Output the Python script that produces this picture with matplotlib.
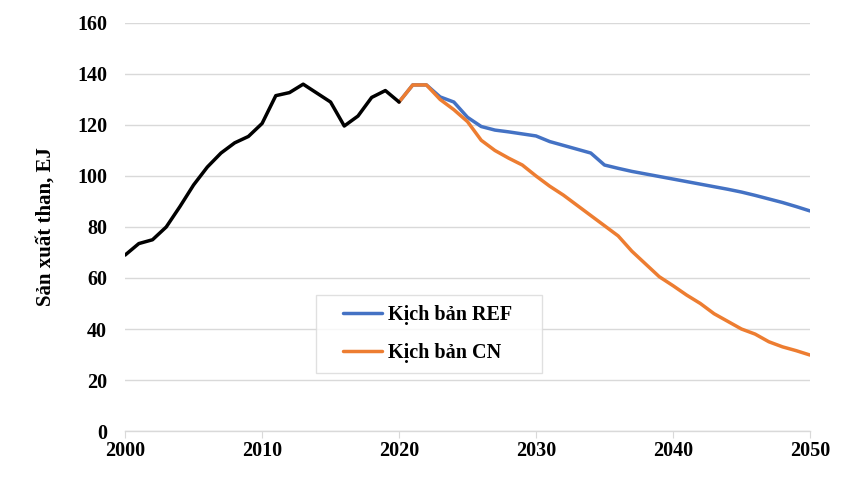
import numpy as np
import matplotlib.pyplot as plt
from matplotlib.legend_handler import HandlerLine2D

plt.rcParams['font.family'] = ['Liberation Serif', 'DejaVu Serif']
plt.rcParams['font.weight'] = 'bold'

# historical coal production 2000-2020
hist_years = list(range(2000, 2021))
hist_vals = [69, 73.5, 75, 80, 88, 96.5, 103.5, 109, 113, 115.5, 120.6,
             131.5, 132.7, 136, 132.5, 129, 119.6, 123.5, 130.8, 133.5, 129]

# scenarios 2020-2050
scen_years = list(range(2020, 2051))
ref_vals = [129, 135.7, 135.7, 131, 129, 123, 119.4, 118, 117.3, 116.5, 115.7,
            113.5, 112, 110.5, 109, 104.3, 103, 101.8, 100.8, 99.8, 98.8,
            97.8, 96.8, 95.8, 94.8, 93.7, 92.4, 91, 89.6, 88, 86.3]
cn_vals = [129, 135.7, 135.7, 130, 126, 121.3, 114, 110, 107, 104.3, 100,
           96, 92.5, 88.5, 84.5, 80.5, 76.5, 70.5, 65.5, 60.5, 57,
           53.3, 50, 46, 43, 40, 38, 35, 33, 31.5, 29.8]

fig = plt.figure(figsize=(8.63, 4.94), dpi=100)
ax = fig.add_axes([0.145, 0.1275, 0.7935, 0.826])

ax.plot(scen_years, ref_vals, color='#4472C4', lw=2.5, label='Kịch bản REF', solid_capstyle='round')
ax.plot(scen_years, cn_vals, color='#ED7D31', lw=2.5, label='Kịch bản CN', solid_capstyle='round')
ax.plot(hist_years, hist_vals, color='black', lw=2.5, solid_capstyle='round')

ax.set_xlim(2000, 2050)
ax.set_ylim(0, 160)
ax.set_xticks(range(2000, 2051, 10))
ax.set_yticks(range(0, 161, 20))
ax.yaxis.grid(True, color='#d9d9d9', lw=1)
ax.set_axisbelow(True)
for s in ['top', 'right', 'left']:
    ax.spines[s].set_visible(False)
ax.spines['bottom'].set_color('#d9d9d9')
ax.spines['bottom'].set_linewidth(1)
ax.tick_params(axis='y', length=0, labelsize=14.5, pad=13)
ax.tick_params(axis='x', length=5, color='#d9d9d9', labelsize=14.5, pad=2)
for lbl in ax.get_xticklabels() + ax.get_yticklabels():
    lbl.set_fontweight('bold')

ax.set_ylabel('Sản xuất than, EJ', fontsize=15, fontweight='bold', labelpad=15.5)

hmap = {l: HandlerLine2D(xpad=0.85) for l in ax.get_lines()[:2]}
leg = ax.legend(loc='upper left', bbox_to_anchor=(0.279, 0.147, 0.33, 0.186),
                mode='expand', fontsize=14.5, handler_map=hmap,
                frameon=True, fancybox=False, edgecolor='#d9d9d9',
                handlelength=2.75, handletextpad=0.3, borderpad=0.5,
                labelspacing=0.9, borderaxespad=0)
leg.get_frame().set_linewidth(1)
for t in leg.get_texts():
    t.set_fontweight('bold')

fig.savefig('out.png', dpi=100)
